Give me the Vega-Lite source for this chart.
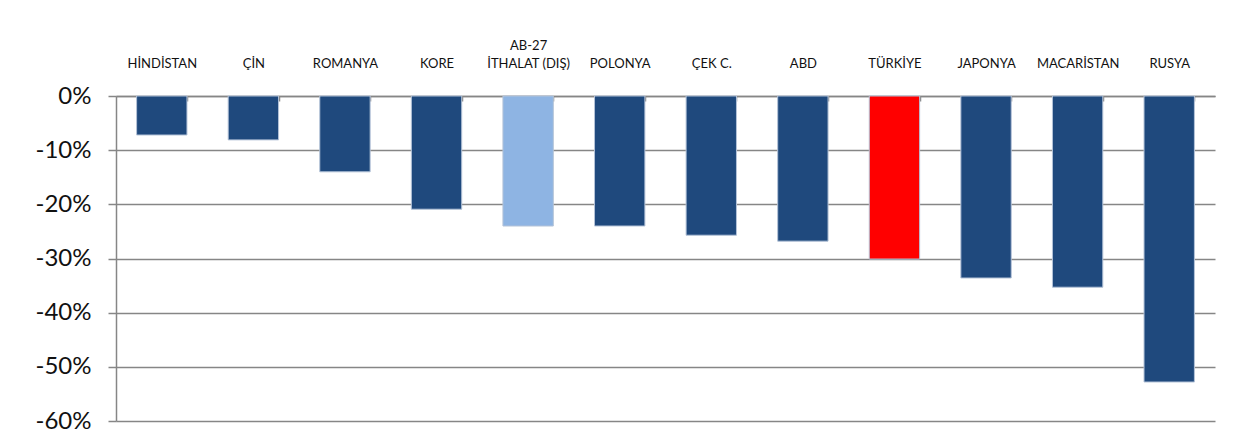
{
  "$schema": "https://vega.github.io/schema/vega-lite/v6.json",
  "autosize": {"type": "none"},
  "width": 1099,
  "height": 325,
  "padding": {"left": 116, "top": 96, "right": 29, "bottom": 25},
  "background": "white",
  "config": {
    "font": "Lato",
    "view": {"stroke": null}
  },
  "data": {
    "values": [
      {"ulke": "HİNDİSTAN", "degisim": -0.072, "grup": "ulke"},
      {"ulke": "ÇİN", "degisim": -0.081, "grup": "ulke"},
      {"ulke": "ROMANYA", "degisim": -0.140, "grup": "ulke"},
      {"ulke": "KORE", "degisim": -0.209, "grup": "ulke"},
      {"ulke": "AB-27|İTHALAT (DIŞ)", "degisim": -0.240, "grup": "ab"},
      {"ulke": "POLONYA", "degisim": -0.240, "grup": "ulke"},
      {"ulke": "ÇEK C.", "degisim": -0.257, "grup": "ulke"},
      {"ulke": "ABD", "degisim": -0.268, "grup": "ulke"},
      {"ulke": "TÜRKİYE", "degisim": -0.301, "grup": "tr"},
      {"ulke": "JAPONYA", "degisim": -0.336, "grup": "ulke"},
      {"ulke": "MACARİSTAN", "degisim": -0.353, "grup": "ulke"},
      {"ulke": "RUSYA", "degisim": -0.528, "grup": "ulke"}
    ]
  },
  "mark": {"type": "bar", "stroke": "#B4C3D8", "strokeWidth": 1},
  "encoding": {
    "x": {
      "field": "ulke",
      "type": "nominal",
      "sort": null,
      "scale": {"paddingInner": 0.45, "paddingOuter": 0.225},
      "axis": {
        "orient": "top",
        "title": null,
        "labelAngle": 0,
        "labelExpr": "reverse(split(datum.label, '|'))",
        "labelFont": "Lato",
        "labelFontSize": 13,
        "labelColor": "#111111",
        "labelPadding": 31,
        "labelLineHeight": -18,
        "domainColor": "#868686",
        "domainWidth": 1.5,
        "tickColor": "#868686",
        "tickWidth": 1.5,
        "tickSize": -5,
        "tickBand": "extent",
        "grid": false
      }
    },
    "y": {
      "field": "degisim",
      "type": "quantitative",
      "scale": {"domain": [-0.6, 0], "nice": false},
      "axis": {
        "title": null,
        "values": [0, -0.1, -0.2, -0.3, -0.4, -0.5, -0.6],
        "labelExpr": "round(datum.value * 100) + '%'",
        "labelFont": "Lato",
        "labelFontSize": 24,
        "labelColor": "#111111",
        "labelPadding": 17,
        "tickSize": 8,
        "tickColor": "#868686",
        "tickWidth": 1.5,
        "domainColor": "#868686",
        "domainWidth": 1.5,
        "grid": true,
        "gridColor": "#868686",
        "gridWidth": 1.5
      }
    },
    "color": {
      "field": "grup",
      "type": "nominal",
      "legend": null,
      "scale": {"domain": ["ulke", "ab", "tr"], "range": ["#1F497D", "#8EB4E3", "#FF0000"]}
    }
  }
}
